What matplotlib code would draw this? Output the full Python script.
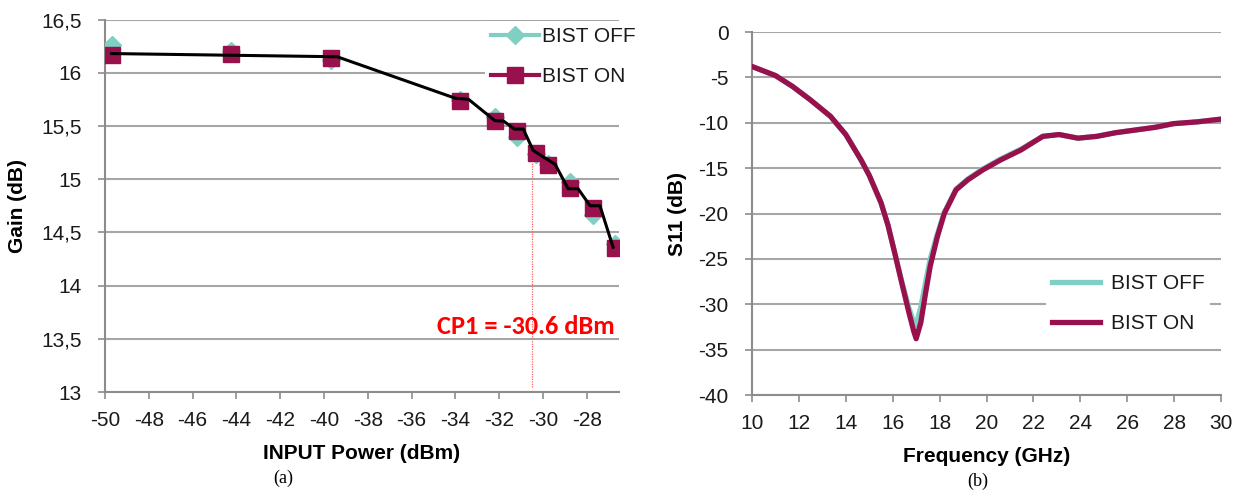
import matplotlib
matplotlib.use("Agg")
import matplotlib.pyplot as plt
from matplotlib.ticker import FuncFormatter
from matplotlib.lines import Line2D

plt.rcParams["axes.unicode_minus"] = False

# ---------------- data: panel (a) ----------------
pin_dbm = [-49.7, -44.25, -39.7, -33.8, -32.2, -31.2, -30.3, -29.75, -28.77, -27.73, -26.7]
gain_bist_on = [16.17, 16.18, 16.14, 15.73, 15.55, 15.45, 15.25, 15.13, 14.92, 14.73, 14.35]
gain_bist_off = [16.26, 16.20, 16.12, 15.74, 15.58, 15.40, 15.24, 15.14, 14.97, 14.66, 14.39]
trend_x = [-49.7, -39.4, -34.0, -33.4, -32.2, -31.8, -31.3, -30.9, -30.45, -30.0, -29.45,
           -28.85, -28.4, -27.85, -27.4, -26.8]
trend_y = [16.18, 16.15, 15.76, 15.75, 15.55, 15.545, 15.47, 15.47, 15.27, 15.21, 15.14,
           14.91, 14.91, 14.75, 14.75, 14.36]
cp1_dbm = -30.5
cp1_label = "CP1 = -30.6 dBm"
x_ticks_a = list(range(-50, -27, 2))
y_ticks_a = [13, 13.5, 14, 14.5, 15, 15.5, 16, 16.5]

# ---------------- data: panel (b) ----------------
freq_ghz = [10.0, 11.0, 11.73, 12.5, 13.35, 14.0, 14.65, 15.0, 15.5, 15.8, 16.1, 16.4,
            16.7, 16.9, 17.0, 17.2, 17.4, 17.6, 17.9, 18.2, 18.7, 19.2, 19.84, 20.6, 21.47,
            22.4, 23.1, 23.9, 24.7, 25.5, 26.35, 27.2, 27.97, 29.0, 30.0]
s11_bist_on = [-3.8, -4.8, -6.0, -7.5, -9.3, -11.3, -14.1, -15.8, -18.8, -21.3, -24.5, -27.8,
               -31.0, -33.0, -33.8, -32.0, -28.8, -25.8, -22.6, -20.0, -17.4, -16.3, -15.2,
               -14.1, -13.0, -11.5, -11.3, -11.7, -11.5, -11.1, -10.8, -10.5, -10.1, -9.9, -9.6]
s11_bist_off = [-3.8, -4.8, -6.0, -7.5, -9.3, -11.3, -14.1, -15.8, -18.8, -21.3, -24.5, -27.6,
                -30.5, -32.0, -32.3, -30.3, -27.6, -25.0, -22.3, -19.9, -17.3, -16.2, -15.1,
                -14.0, -12.9, -11.5, -11.3, -11.7, -11.5, -11.1, -10.8, -10.5, -10.1, -9.9, -9.6]
x_ticks_b = list(range(10, 31, 2))
y_ticks_b = list(range(-40, 1, 5))

# ---------------- style ----------------
C_OFF = "#7FD0C2"
C_ON = "#98104C"
C_GRID = "#A6A6A6"
C_AXIS = "#8C8C8C"
TICK_FONT = ["Liberation Sans", "DejaVu Sans"]
LAB_FONT = ["Liberation Sans", "DejaVu Sans"]

W, H = 1237, 492
fig = plt.figure(figsize=(W / 100, H / 100), dpi=100)


def px_axes(l, r, t, b):
    return fig.add_axes([l / W, 1 - b / H, (r - l) / W, (b - t) / H])


def style_axes(ax):
    for s in ("top", "right"):
        ax.spines[s].set_visible(False)
    for s in ("left", "bottom"):
        ax.spines[s].set_color(C_AXIS)
        ax.spines[s].set_linewidth(1.5)
    ax.grid(axis="y", color=C_GRID, linewidth=1.5)
    ax.set_axisbelow(True)
    ax.tick_params(direction="out", length=5, width=1.2, color=C_AXIS, labelsize=15,
                   labelcolor="#1a1a1a")
    ax.tick_params(axis="x", pad=9)
    ax.tick_params(axis="y", pad=12)
    for lab in ax.get_xticklabels() + ax.get_yticklabels():
        lab.set_family(TICK_FONT)


def make_legend(ax, handles, x_px, y_px, hl, htp):
    leg = ax.legend(handles, ["BIST OFF", "BIST ON"], loc="upper left",
                    bbox_to_anchor=(x_px / W, 1 - y_px / H), bbox_transform=fig.transFigure,
                    frameon=True, fancybox=False, framealpha=1, edgecolor="none",
                    facecolor="white", prop={"family": LAB_FONT, "size": 15},
                    handlelength=hl, handletextpad=htp, labelspacing=1.0,
                    borderpad=0.3, borderaxespad=0)
    leg.set_zorder(10)
    for t in leg.get_texts():
        t.set_color("#1a1a1a")
    return leg


# ---------------- panel (a) ----------------
axa = px_axes(105, 619, 19.5, 392)
axa.set_xlim(-50, -26.53)
axa.set_ylim(13, 16.5)
axa.set_xticks(x_ticks_a)
axa.set_yticks(y_ticks_a)
axa.yaxis.set_major_formatter(FuncFormatter(lambda v, p: ("%g" % v).replace(".", ",")))
axa.plot([cp1_dbm, cp1_dbm], [13.05, 15.15], color="#FF6060", lw=0.9, ls=(0, (1, 1)), zorder=2)
axa.plot(pin_dbm, gain_bist_off, color=C_OFF, linestyle="none", marker="D", ms=9,
         mec=C_OFF, mfc=C_OFF, zorder=3)
axa.plot(pin_dbm, gain_bist_on, color=C_ON, linestyle="none", marker="s", ms=12,
         mec=C_ON, mfc=C_ON, zorder=4)
axa.plot(trend_x, trend_y, color="black", lw=2.2, zorder=5)
axa.text(-26.75, 13.62, cp1_label, color="#FF0000", fontsize=19, fontweight="bold",
         family=["Carlito", "Lato", "DejaVu Sans"], ha="right", va="center", zorder=6)
style_axes(axa)
axa.set_xlabel("INPUT Power (dBm)", fontsize=15, fontweight="bold", family=LAB_FONT, labelpad=10)
axa.set_ylabel("Gain (dB)", fontsize=15, fontweight="bold", family=LAB_FONT, labelpad=10)

h_off = Line2D([], [], color=C_OFF, lw=3, marker="D", ms=9, mec=C_OFF)
h_on = Line2D([], [], color=C_ON, lw=3, marker="s", ms=12, mec=C_ON)
make_legend(axa, [h_off, h_on], 485, 21, 2.3, 0.12)

# ---------------- panel (b) ----------------
axb = px_axes(752, 1221, 32, 395)
axb.set_xlim(10, 30)
axb.set_ylim(-40, 0)
axb.set_xticks(x_ticks_b)
axb.set_yticks(y_ticks_b)
axb.plot(freq_ghz, s11_bist_off, color=C_OFF, lw=3.8, zorder=3, solid_capstyle="round",
         solid_joinstyle="round")
axb.plot(freq_ghz, s11_bist_on, color=C_ON, lw=3.8, zorder=4, solid_capstyle="round",
         solid_joinstyle="round")
style_axes(axb)
axb.set_xlabel("Frequency (GHz)", fontsize=15, fontweight="bold", family=LAB_FONT, labelpad=10)
axb.set_ylabel("S11 (dB)", fontsize=15, fontweight="bold", family=LAB_FONT, labelpad=8)
hb_off = Line2D([], [], color=C_OFF, lw=3.8)
hb_on = Line2D([], [], color=C_ON, lw=3.8)
make_legend(axb, [hb_off, hb_on], 1046, 268, 2.3, 0.5)

# captions
fig.text(283 / W, 1 - 478 / H, "(a)", family=["Liberation Serif", "DejaVu Serif"],
         fontsize=13, ha="center", va="center")
fig.text(978 / W, 1 - 481 / H, "(b)", family=["Liberation Serif", "DejaVu Serif"],
         fontsize=13, ha="center", va="center")

fig.savefig("out.png", dpi=100, facecolor="white")
